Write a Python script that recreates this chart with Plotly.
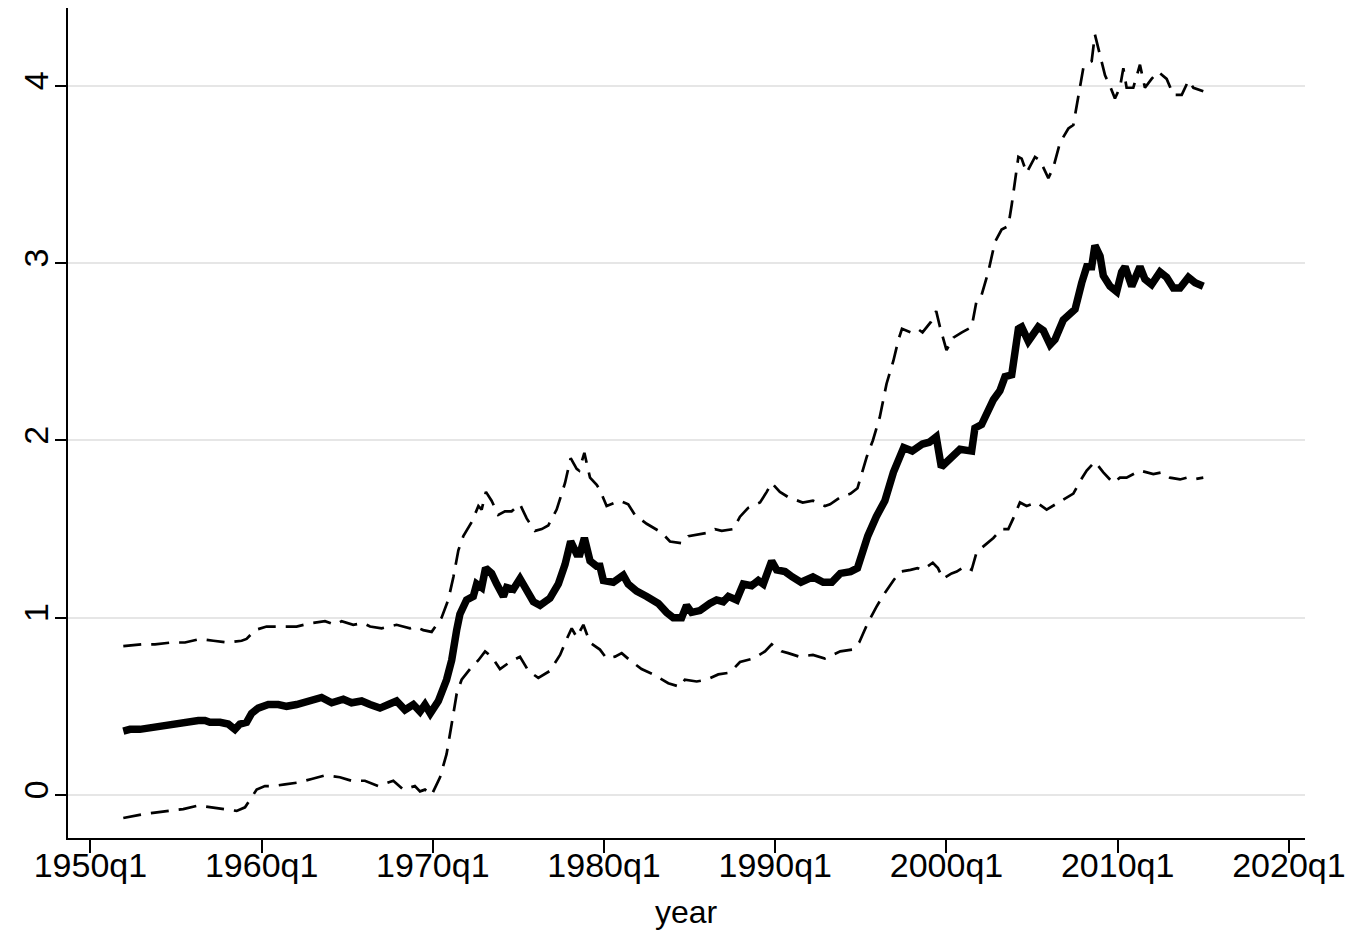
import plotly.graph_objects as go

# ---- data (decimal year, value) ----
est_year = [1951.92, 1952.31, 1952.89, 1953.48, 1954.25, 1955.03, 1955.81, 1956.30, 1956.69, 1956.98,
            1957.57, 1958.05, 1958.44, 1958.73, 1959.12, 1959.41, 1959.80, 1960.39, 1960.97, 1961.46,
            1962.04, 1962.72, 1963.50, 1964.09, 1964.77, 1965.25, 1965.84, 1966.33, 1966.91, 1967.40,
            1967.88, 1968.37, 1968.86, 1969.25, 1969.54, 1969.85, 1970.32, 1970.80, 1971.10, 1971.39,
            1971.58, 1971.97, 1972.36, 1972.56, 1972.85, 1973.08, 1973.43, 1973.73, 1974.12, 1974.31,
            1974.70, 1975.09, 1975.48, 1975.87, 1976.26, 1976.84, 1977.33, 1977.72, 1978.05, 1978.40,
            1978.59, 1978.85, 1979.18, 1979.57, 1979.76, 1979.96, 1980.54, 1981.12, 1981.41, 1981.90,
            1982.49, 1983.17, 1983.65, 1984.04, 1984.53, 1984.82, 1985.11, 1985.60, 1986.18, 1986.57,
            1986.96, 1987.26, 1987.74, 1988.13, 1988.62, 1989.01, 1989.30, 1989.79, 1990.08, 1990.57,
            1991.00, 1991.50, 1992.20, 1992.80, 1993.30, 1993.80, 1994.40, 1994.80, 1995.10, 1995.40,
            1995.90, 1996.40, 1996.90, 1997.50, 1998.00, 1998.60, 1999.00, 1999.40, 1999.70, 2000.20,
            2000.79, 2001.47, 2001.66, 2002.05, 2002.74, 2003.12, 2003.42, 2003.81, 2004.20, 2004.39,
            2004.78, 2005.36, 2005.66, 2006.05, 2006.34, 2006.82, 2007.21, 2007.51, 2007.90, 2008.19,
            2008.48, 2008.67, 2008.97, 2009.16, 2009.55, 2009.94, 2010.23, 2010.43, 2010.82, 2011.30,
            2011.59, 2011.98, 2012.47, 2012.86, 2013.25, 2013.64, 2014.13, 2014.52, 2015.00]
est_val = [0.36, 0.37, 0.37, 0.38, 0.39, 0.40, 0.41, 0.42, 0.42, 0.41,
           0.41, 0.40, 0.37, 0.40, 0.41, 0.46, 0.49, 0.51, 0.51, 0.50,
           0.51, 0.53, 0.55, 0.52, 0.54, 0.52, 0.53, 0.51, 0.49, 0.51,
           0.53, 0.48, 0.51, 0.47, 0.51, 0.46, 0.53, 0.65, 0.76, 0.93,
           1.02, 1.10, 1.12, 1.19, 1.17, 1.28, 1.25, 1.19, 1.12, 1.17,
           1.16, 1.22, 1.15, 1.09, 1.07, 1.11, 1.19, 1.30, 1.43, 1.36,
           1.36, 1.45, 1.32, 1.29, 1.29, 1.21, 1.20, 1.24, 1.19, 1.15,
           1.12, 1.08, 1.03, 1.00, 1.00, 1.07, 1.03, 1.04, 1.08, 1.10,
           1.09, 1.12, 1.10, 1.19, 1.18, 1.21, 1.19, 1.32, 1.27, 1.26,
           1.23, 1.20, 1.23, 1.20, 1.20, 1.25, 1.26, 1.28, 1.37, 1.46,
           1.57, 1.66, 1.82, 1.96, 1.94, 1.98, 1.99, 2.02, 1.85, 1.90,
           1.95, 1.94, 2.07, 2.09, 2.23, 2.28, 2.36, 2.37, 2.63, 2.64,
           2.56, 2.64, 2.62, 2.54, 2.57, 2.68, 2.72, 2.74, 2.89, 2.98,
           2.98, 3.10, 3.04, 2.93, 2.87, 2.84, 2.95, 2.98, 2.87, 2.98,
           2.91, 2.88, 2.95, 2.92, 2.86, 2.86, 2.92, 2.89, 2.87]

upper_year = [1951.92, 1952.99, 1953.77, 1954.74, 1955.52, 1956.40, 1957.18, 1958.05, 1958.83, 1959.12,
              1959.61, 1960.29, 1961.26, 1962.04, 1962.92, 1963.70, 1964.28, 1964.67, 1965.35, 1965.94,
              1966.33, 1967.01, 1967.88, 1968.66, 1968.95, 1969.44, 1969.93, 1970.51, 1970.90, 1971.20,
              1971.49, 1971.78, 1972.27, 1972.66, 1972.85, 1973.10, 1973.43, 1973.82, 1974.21, 1974.60,
              1975.09, 1975.48, 1975.97, 1976.36, 1976.74, 1977.23, 1977.72, 1978.05, 1978.40, 1978.54,
              1978.85, 1979.18, 1979.57, 1979.76, 1980.15, 1980.64, 1980.93, 1981.41, 1981.80, 1982.49,
              1983.36, 1983.85, 1984.53, 1984.92, 1985.50, 1986.09, 1986.48, 1986.87, 1987.55, 1987.94,
              1988.42, 1989.11, 1989.50, 1989.79, 1990.27, 1990.76, 1991.60, 1992.20, 1992.90, 1993.20,
              1993.80, 1994.40, 1994.80, 1995.35, 1995.70, 1996.10, 1996.50, 1996.90, 1997.20, 1997.40,
              1997.90, 1998.30, 1998.60, 1999.10, 1999.40, 1999.62, 2000.00, 2000.40, 2000.90, 2001.47,
              2001.76, 2002.05, 2002.44, 2002.83, 2003.22, 2003.61, 2003.81, 2004.00, 2004.20, 2004.39,
              2004.68, 2005.17, 2005.46, 2005.95, 2006.24, 2006.63, 2007.12, 2007.41, 2007.70, 2007.99,
              2008.28, 2008.48, 2008.67, 2008.97, 2009.26, 2009.55, 2009.84, 2010.13, 2010.33, 2010.52,
              2010.91, 2011.30, 2011.59, 2011.98, 2012.37, 2012.86, 2013.25, 2013.74, 2014.13, 2014.42,
              2015.00]
upper_val = [0.84, 0.85, 0.85, 0.86, 0.86, 0.88, 0.87, 0.86, 0.87, 0.88,
             0.93, 0.95, 0.95, 0.95, 0.97, 0.98, 0.96, 0.98, 0.96, 0.97,
             0.95, 0.94, 0.96, 0.94, 0.95, 0.93, 0.92, 1.00, 1.10, 1.23,
             1.38, 1.46, 1.54, 1.63, 1.61, 1.71, 1.66, 1.58, 1.60, 1.60,
             1.64, 1.56, 1.49, 1.50, 1.52, 1.61, 1.76, 1.90, 1.84, 1.83,
             1.93, 1.79, 1.75, 1.72, 1.63, 1.65, 1.66, 1.64, 1.58, 1.53,
             1.48, 1.43, 1.42, 1.46, 1.47, 1.48, 1.50, 1.49, 1.50, 1.57,
             1.62, 1.65, 1.71, 1.76, 1.71, 1.68, 1.65, 1.66, 1.63, 1.64,
             1.68, 1.70, 1.73, 1.91, 2.00, 2.13, 2.32, 2.45, 2.57, 2.63,
             2.61, 2.63, 2.61, 2.67, 2.73, 2.64, 2.51, 2.58, 2.61, 2.64,
             2.79, 2.82, 2.95, 3.12, 3.19, 3.21, 3.33, 3.47, 3.60, 3.59,
             3.51, 3.60, 3.58, 3.48, 3.54, 3.68, 3.76, 3.78, 3.93, 4.10,
             4.13, 4.14, 4.29, 4.18, 4.06, 4.00, 3.93, 3.99, 4.10, 3.99,
             3.99, 4.12, 3.99, 4.04, 4.08, 4.04, 3.95, 3.95, 4.03, 3.99,
             3.97]

lower_year = [1951.92, 1952.99, 1953.77, 1954.55, 1955.42, 1956.30, 1957.08, 1957.95, 1958.54, 1959.03,
              1959.32, 1959.71, 1960.19, 1960.68, 1961.36, 1962.14, 1962.92, 1963.70, 1964.57, 1965.25,
              1966.03, 1966.81, 1967.69, 1968.27, 1968.95, 1969.25, 1969.54, 1969.93, 1970.42, 1970.80,
              1971.10, 1971.39, 1971.68, 1972.17, 1972.66, 1973.05, 1973.43, 1973.92, 1974.50, 1975.09,
              1975.58, 1976.16, 1976.84, 1977.43, 1977.82, 1978.11, 1978.40, 1978.79, 1979.18, 1979.57,
              1979.76, 1980.15, 1980.64, 1981.03, 1981.51, 1982.19, 1982.88, 1983.75, 1984.43, 1984.72,
              1985.41, 1985.99, 1986.67, 1987.35, 1987.94, 1988.72, 1989.40, 1989.79, 1990.37, 1990.76,
              1991.40, 1992.20, 1992.90, 1993.80, 1994.50, 1994.90, 1995.40, 1995.90, 1996.40, 1996.90,
              1997.30, 1997.90, 1998.30, 1998.60, 1999.20, 1999.50, 1999.80, 2000.30, 2000.60, 2001.08,
              2001.47, 2001.76, 2002.25, 2002.74, 2003.22, 2003.61, 2003.90, 2004.29, 2004.68, 2005.27,
              2005.85, 2006.53, 2007.02, 2007.41, 2007.80, 2008.19, 2008.67, 2009.16, 2009.74, 2010.13,
              2010.52, 2010.91, 2011.30, 2012.08, 2012.57, 2013.05, 2013.64, 2014.03, 2014.42, 2015.00]
lower_val = [-0.13, -0.11, -0.10, -0.09, -0.08, -0.06, -0.07, -0.08, -0.09, -0.07,
             -0.03, 0.03, 0.05, 0.05, 0.06, 0.07, 0.09, 0.11, 0.10, 0.08,
             0.08, 0.05, 0.08, 0.03, 0.05, 0.02, 0.03, 0.00, 0.10, 0.23,
             0.40, 0.57, 0.65, 0.71, 0.76, 0.81, 0.78, 0.71, 0.75, 0.78,
             0.70, 0.66, 0.70, 0.79, 0.88, 0.94, 0.89, 0.96, 0.86, 0.83,
             0.82, 0.77, 0.78, 0.80, 0.76, 0.71, 0.68, 0.63, 0.61, 0.65,
             0.64, 0.65, 0.68, 0.69, 0.75, 0.77, 0.81, 0.85, 0.81, 0.80,
             0.78, 0.79, 0.77, 0.81, 0.82, 0.86, 0.97, 1.06, 1.14, 1.21,
             1.26, 1.27, 1.28, 1.27, 1.31, 1.28, 1.22, 1.25, 1.26, 1.29,
             1.27, 1.37, 1.41, 1.45, 1.50, 1.50, 1.56, 1.65, 1.63, 1.65,
             1.61, 1.65, 1.68, 1.70, 1.77, 1.83, 1.88, 1.82, 1.76, 1.79,
             1.79, 1.81, 1.83, 1.81, 1.82, 1.79, 1.78, 1.79, 1.78, 1.79]

tick_years = [1950, 1960, 1970, 1980, 1990, 2000, 2010, 2020]
tick_labels = ["1950q1", "1960q1", "1970q1", "1980q1", "1990q1", "2000q1", "2010q1", "2020q1"]
y_ticks = [0, 1, 2, 3, 4]
x_title = "year"

FONT = "Liberation Sans, Arial, sans-serif"

fig = go.Figure()
fig.add_trace(go.Scatter(x=upper_year, y=upper_val, mode="lines",
                         line=dict(color="black", width=2.7, dash="18px,10px"),
                         showlegend=False, hoverinfo="skip"))
fig.add_trace(go.Scatter(x=lower_year, y=lower_val, mode="lines",
                         line=dict(color="black", width=2.7, dash="18px,10px"),
                         showlegend=False, hoverinfo="skip"))
fig.add_trace(go.Scatter(x=est_year, y=est_val, mode="lines",
                         line=dict(color="black", width=7.5),
                         showlegend=False))

# page body has an 8px default margin, so the figure is offset by 8px
fig.update_layout(
    width=1339, height=922,
    margin=dict(l=60, r=42, t=0, b=92),
    paper_bgcolor="white", plot_bgcolor="white",
    font=dict(family=FONT, size=34, color="black"),
    xaxis=dict(
        range=[1948.69, 2020.94],
        tickmode="array", tickvals=tick_years, ticktext=tick_labels,
        ticks="outside", ticklen=13, tickwidth=2, tickcolor="black",
        ticklabelstandoff=-17,
        showline=True, linecolor="black", linewidth=2,
        showgrid=False, zeroline=False, automargin=False,
        tickfont=dict(size=34),
    ),
    yaxis=dict(
        range=[-0.243, 4.44],
        tickmode="array", tickvals=y_ticks,
        ticks="outside", ticklen=11, tickwidth=2, tickcolor="black",
        tickangle=-90, automargin=False, ticklabelstandoff=-7,
        showline=True, linecolor="black", linewidth=2,
        showgrid=True, gridcolor="#e6e6e6", gridwidth=2,
        zeroline=False,
        tickfont=dict(size=34),
    ),
    annotations=[dict(text=x_title, xref="paper", yref="paper", x=0.5, y=-0.0892,
                      xanchor="center", yanchor="middle", showarrow=False, borderpad=0,
                      font=dict(size=32, color="black"))],
)

fig.write_html("out.html")
